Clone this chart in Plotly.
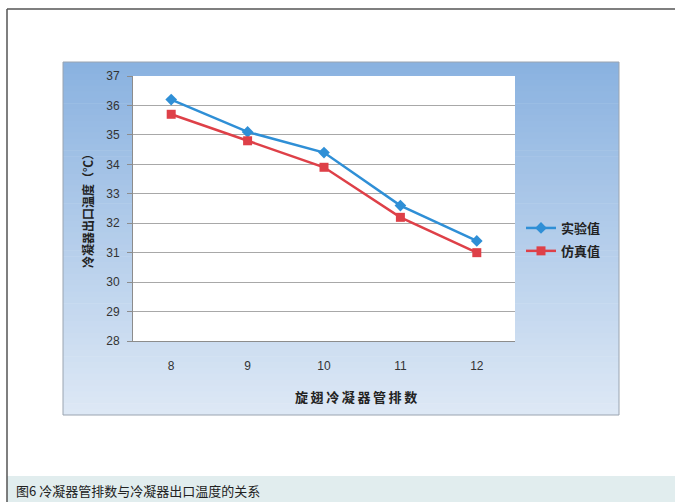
import plotly.graph_objects as go

categories = ["8", "9", "10", "11", "12"]
experimental = [36.2, 35.1, 34.4, 32.6, 31.4]
simulation = [35.7, 34.8, 33.9, 32.2, 31.0]
y_ticks = [28, 29, 30, 31, 32, 33, 34, 35, 36, 37]
series_names = ["实验值", "仿真值"]

W, H = 675, 502
PL, PR, PT, PB = 133, 515, 76, 341
pw, ph = PR - PL, PB - PT

def px(x):
    return (x - PL) / pw

def py(y):
    return (PB - y) / ph

CJK = "Noto Sans CJK SC"

fig = go.Figure()
fig.add_trace(go.Scatter(
    x=categories, y=experimental, name=series_names[0], mode="lines+markers",
    legendgroup="a",
    line=dict(color="#2F8FD6", width=2.5),
    marker=dict(symbol="diamond", size=9, color="#2F8FD6"),
))
fig.add_trace(go.Scatter(
    x=categories, y=simulation, name=series_names[1], mode="lines+markers",
    legendgroup="b",
    line=dict(color="#DE4048", width=2.5),
    marker=dict(symbol="square", size=9, color="#DE4048"),
))

shapes = []
# gradient chart area
cx0, cx1, cy0, cy1 = 63, 619, 62, 415
n = 60
top = (0x8A, 0xB2, 0xE0)
bot = (0xDD, 0xE8, 0xF5)
for i in range(n):
    t = i / (n - 1)
    c = tuple(int(round(top[k] + (bot[k] - top[k]) * t)) for k in range(3))
    ya = cy0 + (cy1 - cy0) * i / n
    yb = cy0 + (cy1 - cy0) * (i + 1) / n + 0.6
    shapes.append(dict(type="rect", xref="paper", yref="paper", layer="below",
                       x0=px(cx0), x1=px(cx1), y0=py(min(yb, cy1)), y1=py(ya),
                       line=dict(width=0), fillcolor="rgb(%d,%d,%d)" % c))
shapes.append(dict(type="rect", xref="paper", yref="paper", layer="below",
                   x0=px(cx0), x1=px(cx1), y0=py(cy1), y1=py(cy0),
                   line=dict(width=1, color="#9AA4B0"), fillcolor="rgba(0,0,0,0)"))
# white plot area
shapes.append(dict(type="rect", xref="paper", yref="paper", layer="below",
                   x0=0, x1=1, y0=0, y1=1, line=dict(width=0), fillcolor="white"))
# caption band
shapes.append(dict(type="rect", xref="paper", yref="paper", layer="below",
                   x0=px(7), x1=px(676), y0=py(503), y1=py(476),
                   line=dict(width=0), fillcolor="#E1EDEE"))
# outer frame lines
shapes.append(dict(type="line", xref="paper", yref="paper",
                   x0=px(7), x1=px(676), y0=py(9), y1=py(9),
                   line=dict(width=1.5, color="#555555")))
shapes.append(dict(type="line", xref="paper", yref="paper",
                   x0=px(7), x1=px(7), y0=py(9), y1=py(503),
                   line=dict(width=1.5, color="#555555")))

annotations = [
    dict(text="冷凝器出口温度（℃）", xref="paper", yref="paper", x=px(87), y=py(208),
         textangle=-90, showarrow=False, xanchor="center", yanchor="middle",
         font=dict(family=CJK, size=12, color="#222222", weight="bold")),
    dict(text="\u2009".join("旋翅冷凝器管排数"), xref="paper", yref="paper", x=px(356), y=py(396),
         showarrow=False, xanchor="center", yanchor="middle",
         font=dict(family=CJK, size=13, color="#222222", weight="bold")),
    dict(text="图6 冷凝器管排数与冷凝器出口温度的关系", xref="paper", yref="paper",
         x=px(14), y=py(490), showarrow=False, xanchor="left", yanchor="middle",
         font=dict(family=CJK, size=13, color="#222222")),
]

fig.update_layout(
    width=W, height=H,
    margin=dict(l=PL, r=W - PR, t=PT, b=H - PB, pad=0),
    paper_bgcolor="white", plot_bgcolor="white",
    shapes=shapes, annotations=annotations,
    showlegend=True,
    legend=dict(x=px(521), y=py(213), xanchor="left", yanchor="top",
                bgcolor="rgba(0,0,0,0)", borderwidth=0,
                font=dict(family=CJK, size=13, color="#222222", weight="bold"),
                itemwidth=30, traceorder="grouped", tracegroupgap=3),
    xaxis=dict(type="category", range=[-0.5, 4.5], showgrid=False,
               showline=True, linecolor="#8C8C8C", linewidth=1,
               ticks="", ticklabelstandoff=14, zeroline=False,
               tickfont=dict(family="Liberation Sans", size=12, color="#333333")),
    yaxis=dict(range=[28, 37], tickvals=y_ticks, showgrid=True,
               gridcolor="#A8A8A8", gridwidth=1,
               showline=True, linecolor="#8C8C8C", linewidth=1,
               ticks="outside", ticklen=5, tickcolor="#8C8C8C",
               ticklabelstandoff=5, zeroline=False,
               tickfont=dict(family="Liberation Sans", size=12, color="#333333")),
)

fig.write_html("out.html", config={"displayModeBar": False},
               post_script="document.body.style.margin='0';")
